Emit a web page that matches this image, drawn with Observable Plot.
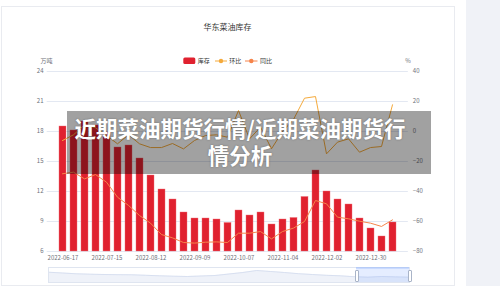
<!DOCTYPE html>
<html>
<head>
<meta charset="utf-8">
<script src="https://cdn.jsdelivr.net/npm/d3@7"></script>
<script src="https://cdn.jsdelivr.net/npm/@observablehq/plot@0.6"></script>
<style>
  html, body { margin: 0; padding: 0; background: #fff; }
  #wrap { position: relative; width: 500px; height: 286px; overflow: hidden; background: #fff;
          font-family: "Noto Sans CJK SC", "Noto Sans", sans-serif; }
  .abs { position: absolute; }
</style>
</head>
<body>
<div id="wrap">
  <div class="abs" style="left:466px;top:0;width:34px;height:286px;background:#f0f2f7"></div>
  <div class="abs" style="left:1px;top:6px;width:452px;height:278px;border:1px solid #e9ebf0;background:#fff"></div>
  <div id="p1" class="abs" style="left:0;top:0"></div>
  <div id="p2" class="abs" style="left:0;top:0"></div>
  <div id="slider" class="abs" style="left:48px;top:267px;width:361px;height:15px"></div>
  <div id="legend" class="abs" style="left:0;top:0"></div>
  <div id="banner" class="abs" style="left:67px;top:111px;width:364px;height:63px;background:rgba(0,0,0,0.37)"></div>
  <div id="bannerText" class="abs" style="left:240px;top:114px;transform:translateX(-50%);white-space:nowrap;text-align:center;color:#fff;font-weight:700;font-size:21.5px;line-height:27px;text-shadow:0 0 2px rgba(0,0,0,0.35)">
    <div>近期菜油期货行情/近期菜油期货行</div>
    <div>情分析</div>
  </div>
</div>
<script>
const FONT = '"Noto Sans CJK SC", "Noto Sans", sans-serif';

// ---- data ----
const dates = ["2022-06-17","2022-06-24","2022-07-01","2022-07-08","2022-07-15","2022-07-22","2022-07-29",
  "2022-08-05","2022-08-12","2022-08-19","2022-08-26","2022-09-02","2022-09-09","2022-09-16","2022-09-23",
  "2022-09-30","2022-10-07","2022-10-14","2022-10-21","2022-10-28","2022-11-04","2022-11-11","2022-11-18",
  "2022-11-25","2022-12-02","2022-12-09","2022-12-16","2022-12-23","2022-12-30","2023-01-06","2023-01-13"];
const stock = [18.5, 18.1, 19.0, 18.6, 17.9, 16.4, 16.6, 15.3, 13.6, 12.2, 11.2, 9.9, 9.3, 9.3, 9.2, 8.85,
  10.1, 9.6, 9.9, 8.7, 9.2, 9.35, 11.45, 14.1, 12.0, 11.2, 10.7, 9.3, 8.3, 7.5, 8.9];
const huanbi = [-6, -2.2, 4.4, 2.5, -2.7, -8.2, -2.2, -8.2, -10.7, -10.7, -8, -11.6, -6, -2.7, -2.2, -3.8,
  14, -4.9, 2.9, -11.5, 0, 8, 22.2, 23.3, -14.9, -7.1, -4.9, -13.8, -10.7, -10, 17.8];
const tongbi = [-28.2, -27.1, -31.6, -28.7, -33.8, -43.8, -49.3, -56, -61.1, -68.7, -70.9, -74, -74.4, -73.8,
  -73.6, -74, -67.8, -67.8, -66.7, -71.6, -66.7, -64.4, -60, -46, -48.2, -57.1, -58.2, -59.8, -61.1, -63.3, -58.9];
const leftTicks = [6, 9, 12, 15, 18, 21, 24];
const rightTicks = [-80, -60, -40, -20, 0, 20, 40];
const xTickLabels = ["2022-06-17","2022-07-15","2022-08-12","2022-09-09","2022-10-07","2022-11-04","2022-12-02","2022-12-30"];
const sliderTrend = [10.3, 9.5, 8.7, 8.3, 8.0, 7.8, 7.7, 7.2, 6.7, 6.3, 6.0, 6.5, 7.0, 8.5, 10.0, 12.0, 11.0, 10.0, 8.8, 8.0, 7.2, 6.7, 5.8, 5.3, 6.0, 5.6, 5.3];

const rows = dates.map((d, i) => ({date: d, stock: stock[i], hb: huanbi[i], tb: tongbi[i]}));

const common = {
  width: 500, height: 286,
  marginLeft: 46.7, marginRight: 92.2, marginTop: 71, marginBottom: 35,
  style: {background: "transparent", fontFamily: FONT, fontSize: "6px", overflow: "visible"}
};

const p1 = Plot.plot({
  ...common,
  x: {type: "band", domain: dates, paddingInner: 0.4, paddingOuter: 0.2},
  y: {domain: [6, 24]},
  marks: [
    Plot.gridY(leftTicks, {stroke: "#e3e8f2", strokeOpacity: 1, strokeWidth: 1}),
    Plot.barY(rows, {x: "date", y1: 6, y2: "stock", fill: "#e0212f", stroke: "#ef6f78", strokeWidth: 0.4}),
    Plot.axisY(leftTicks, {anchor: "left", tickSize: 0, tickPadding: 3.7, fontSize: 6, fill: "#6e7079", label: null}),
    Plot.axisX(xTickLabels, {anchor: "bottom", tickSize: 0, tickPadding: 4, fontSize: 6, fill: "#6e7079", label: null})
  ]
});
document.getElementById("p1").appendChild(p1);

const p2 = Plot.plot({
  ...common,
  x: {type: "point", domain: dates, padding: 0.5, axis: null},
  y: {domain: [-80, 40]},
  marks: [
    Plot.axisY(rightTicks, {anchor: "right", tickSize: 0, tickPadding: 4.5, fontSize: 6, fill: "#6e7079", label: null}),
    Plot.lineY(rows, {x: "date", y: "tb", stroke: "#f6844a", strokeWidth: 1}),
    Plot.lineY(rows, {x: "date", y: "hb", stroke: "#f5aa3b", strokeWidth: 1})
  ]
});
document.getElementById("p2").appendChild(p2);

// slider (dataZoom) with mini area
const sl = Plot.plot({
  width: 361, height: 15, margin: 0,
  style: {background: "transparent", overflow: "visible"},
  x: {domain: [0, sliderTrend.length - 1], axis: null},
  y: {domain: [0, 15], axis: null},
  marks: [
    Plot.areaY(sliderTrend, {x: (d, i) => i, y: d => d, fill: "#d2dbee", fillOpacity: 0.35}),
    Plot.lineY(sliderTrend, {x: (d, i) => i, y: d => d, stroke: "#d2dbee", strokeWidth: 0.8}),
    Plot.frame({stroke: "#dfe5f0"})
  ]
});
const slDiv = document.getElementById("slider");
slDiv.appendChild(sl);
slDiv.insertAdjacentHTML("beforeend",
  '<div style="position:absolute;left:308px;top:0;width:53px;height:15px;background:rgba(135,175,255,0.22)"></div>' +
  '<div style="position:absolute;left:308px;top:0;width:53px;height:2px;background:rgba(135,175,255,0.3)"></div>' +
  '<div style="position:absolute;left:306.5px;top:2.5px;width:2.5px;height:10px;background:#fff;border:0.5px solid #a9b4c8;border-radius:1px"></div>' +
  '<div style="position:absolute;left:359.5px;top:2.5px;width:2.5px;height:10px;background:#fff;border:0.5px solid #a9b4c8;border-radius:1px"></div>');

// title, legend, axis units
document.getElementById("legend").innerHTML =
  '<svg width="500" height="80" style="font-family:' + FONT.replace(/"/g, "'") + '">' +
  '<text x="227.5" y="28" text-anchor="middle" dominant-baseline="middle" font-size="8" fill="#333">华东菜油库存</text>' +
  '<rect x="183.3" y="57.5" width="12" height="6.5" rx="1.5" fill="#e0212f"></rect>' +
  '<text x="197.7" y="61" dominant-baseline="middle" font-size="6" fill="#333">库存</text>' +
  '<line x1="215" y1="61" x2="227" y2="61" stroke="#f5aa3b" stroke-width="1"></line>' +
  '<circle cx="221" cy="61" r="2.2" fill="#f5aa3b"></circle>' +
  '<text x="229.3" y="61" dominant-baseline="middle" font-size="6" fill="#333">环比</text>' +
  '<line x1="245" y1="61" x2="257.5" y2="61" stroke="#f6844a" stroke-width="1"></line>' +
  '<circle cx="251.3" cy="61" r="2.2" fill="#f6844a"></circle>' +
  '<text x="260" y="61" dominant-baseline="middle" font-size="6" fill="#333">同比</text>' +
  '<text x="46.5" y="61" text-anchor="middle" dominant-baseline="middle" font-size="6" fill="#6e7079">万吨</text>' +
  '<text x="408" y="61" text-anchor="middle" dominant-baseline="middle" font-size="6" fill="#6e7079">%</text>' +
  '</svg>';
</script>
</body>
</html>
